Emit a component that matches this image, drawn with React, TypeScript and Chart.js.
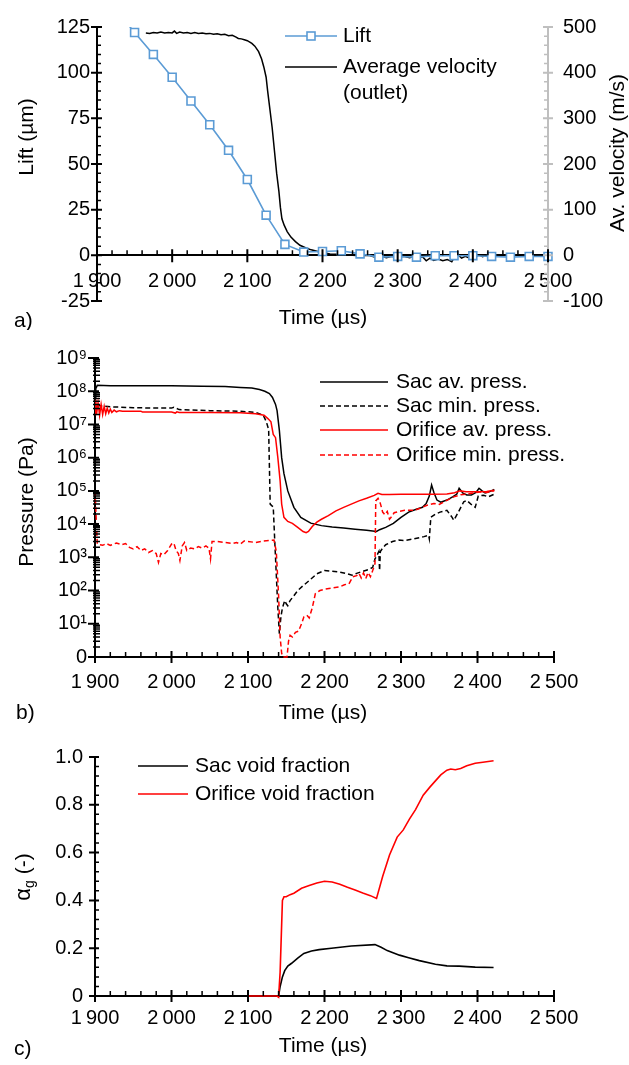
import React, { useEffect, useRef } from 'react';
import { Chart, registerables } from 'chart.js';

Chart.register(...registerables);

const FONT = "'Liberation Sans', Arial, Helvetica, sans-serif";
Chart.defaults.font.family = FONT;
Chart.defaults.font.size = 20;
Chart.defaults.color = '#000';

// ---------- shared time axis ----------
const timeTicks = [1900, 2000, 2100, 2200, 2300, 2400, 2500];
const timeTickLabels = ['1\u2009900', '2\u2009000', '2\u2009100', '2\u2009200', '2\u2009300', '2\u2009400', '2\u2009500'];

// ---------- panel a ----------
const liftTicks = [-25, 0, 25, 50, 75, 100, 125];
const liftTickLabels = ['-25', '0', '25', '50', '75', '100', '125'];
const velocityTicks = [-100, 0, 100, 200, 300, 400, 500];
const velocityTickLabels = ['-100', '0', '100', '200', '300', '400', '500'];

const liftTime = [1925, 1950, 1975, 2000, 2025, 2050, 2075, 2100, 2125, 2150, 2175, 2200, 2225, 2250, 2275, 2300, 2325, 2350, 2375, 2400, 2425, 2450, 2475, 2500];
const liftValue = [134.5, 122, 110, 97.5, 84.5, 71.5, 57.5, 41.5, 22, 6, 1.8, 2.1, 2.5, 0.8, -1.0, -0.6, -1.0, -0.2, -0.2, -0.2, -0.6, -1.0, -0.6, -0.6];

const velocityTime = [1965, 1970, 1975, 1980, 1985, 1990, 1995, 2000, 2003, 2006, 2010, 2015, 2020, 2025, 2030, 2035, 2040, 2045, 2050, 2055, 2060, 2065, 2070, 2075, 2080, 2085, 2088, 2092, 2096, 2100, 2106, 2110, 2115, 2119, 2122, 2125, 2127, 2130, 2133, 2136, 2139, 2142, 2144, 2146, 2149, 2153, 2158, 2164, 2170, 2178, 2185, 2195, 2210, 2225, 2240, 2250, 2262, 2270, 2278, 2285, 2292, 2300, 2308, 2316, 2322, 2328, 2333, 2338, 2343, 2348, 2354, 2360, 2366, 2372, 2376, 2380, 2385, 2390, 2394, 2398, 2403, 2408, 2413, 2418, 2422];
const velocityValue = [487, 486, 488, 487, 489, 487, 488, 487, 491, 486, 489, 487, 488, 486, 488, 486, 487, 485, 486, 484, 485, 483, 484, 481, 482, 478, 475, 474, 472, 470, 464, 458, 446, 430, 412, 390, 360, 320, 280, 230, 180, 140, 105, 80, 66, 52, 40, 30, 22, 16, 12, 8, 3, 2, 0, -1, 0, -4, -2, -5, -2, -4, -2, -5, -2, -6, -3, -12, -6, -11, -8, -12, -9, -14, -3, 2, -6, -2, -5, 2, -4, 1, -3, 0, 0];

// ---------- panel b ----------
const pressureTicks = [1, 10, 100, 1e3, 1e4, 1e5, 1e6, 1e7, 1e8, 1e9];
const pressureTickLabels = ['0', '10¹', '10²', '10³', '10⁴', '10⁵', '10⁶', '10⁷', '10⁸', '10⁹'];

const sacAvTime = [1900, 1901, 1903, 1920, 1960, 2000, 2040, 2070, 2090, 2105, 2115, 2122, 2128, 2132, 2136, 2138, 2141, 2144, 2147, 2152, 2160, 2169, 2182, 2196, 2210, 2225, 2240, 2255, 2268, 2272, 2280, 2290, 2300, 2310, 2320, 2328, 2333, 2337, 2340, 2343, 2347, 2352, 2360, 2368, 2373, 2376, 2381, 2386, 2392, 2398, 2402, 2406, 2410, 2416, 2422];
const sacAvPress = [6e7, 1.2e8, 1.5e8, 1.45e8, 1.45e8, 1.45e8, 1.42e8, 1.38e8, 1.3e8, 1.25e8, 1.12e8, 1e8, 8.5e7, 6.5e7, 4e7, 2.6e7, 6.6e6, 1e6, 3.3e5, 1e5, 3.2e4, 1.6e4, 1.07e4, 9e3, 8.2e3, 7.6e3, 7e3, 6.5e3, 6e3, 6.8e3, 8e3, 1.05e4, 1.6e4, 2.3e4, 2.8e4, 3.2e4, 4.2e4, 7e4, 1.5e5, 9e4, 5.3e4, 4.6e4, 5.3e4, 6.7e4, 8e4, 1.2e5, 8.5e4, 7.5e4, 7.5e4, 9e4, 1.2e5, 1e5, 8.7e4, 9.5e4, 1.1e5];

const sacMinTime = [1903, 1920, 1950, 1980, 2000, 2003, 2010, 2050, 2090, 2110, 2120, 2124, 2127, 2129, 2131, 2133, 2135, 2137, 2139, 2141, 2143, 2145, 2148, 2150, 2152, 2155, 2160, 2165, 2172, 2180, 2190, 2200, 2210, 2220, 2230, 2236, 2242, 2250, 2258, 2263, 2266, 2269, 2271, 2272, 2273, 2276, 2280, 2289, 2297, 2305, 2317, 2330, 2336, 2337, 2339, 2345, 2351, 2360, 2366, 2369, 2375, 2382, 2386, 2393, 2397, 2401, 2408, 2414, 2422];
const sacMinPress = [3.7e7, 3.4e7, 3.2e7, 3.1e7, 3.1e7, 3.3e7, 2.8e7, 2.6e7, 2.5e7, 2.3e7, 1.9e7, 1.2e7, 7e6, 4e4, 3.6e4, 3.3e4, 3e3, 3e2, 3e1, 5, 16, 30, 50, 40, 35, 50, 70, 100, 140, 200, 320, 400, 380, 360, 320, 290, 330, 380, 430, 500, 900, 1.2e3, 1.5e3, 400, 1.5e3, 1.9e3, 2.4e3, 3e3, 3.3e3, 3.2e3, 3.6e3, 4.2e3, 4.6e3, 3.6e3, 1.6e4, 2e4, 2.3e4, 2.6e4, 1.7e4, 1.3e4, 2.3e4, 4.7e4, 5.2e4, 3.7e4, 3.2e4, 7e4, 7.4e4, 6.6e4, 8e4];

const orificeAvTime = [1900, 1901, 1902, 1904, 1906, 1908, 1910, 1912, 1914, 1916, 1918, 1920, 1922, 1925, 1928, 1932, 1936, 1960, 1962, 2000, 2005, 2007, 2010, 2050, 2090, 2110, 2121, 2126, 2130, 2133, 2136, 2139, 2142, 2144, 2147, 2152, 2158, 2165, 2172, 2176, 2179, 2184, 2190, 2196, 2205, 2215, 2225, 2235, 2245, 2255, 2265, 2270, 2275, 2285, 2300, 2320, 2340, 2360, 2370, 2377, 2385, 2395, 2403, 2412, 2422];
const orificeAvPress = [2e7, 5.5e7, 2e7, 4.5e7, 1.9e7, 4e7, 2e7, 3.5e7, 2.1e7, 3.1e7, 2.2e7, 2.9e7, 2.3e7, 2.7e7, 2.4e7, 2.6e7, 2.5e7, 2.5e7, 2.35e7, 2.35e7, 2.2e7, 2.4e7, 2.3e7, 2.3e7, 2.25e7, 2.1e7, 1.9e7, 1.5e7, 1.2e7, 5e6, 4e6, 1e6, 2e5, 4e4, 1.6e4, 1.2e4, 1.05e4, 8e3, 6e3, 5.5e3, 6e3, 8.5e3, 1.15e4, 1.4e4, 1.8e4, 2.5e4, 3.2e4, 4e4, 5e4, 6e4, 7.3e4, 8.5e4, 7.8e4, 7.8e4, 7.9e4, 7.9e4, 7.9e4, 8e4, 8.8e4, 1e5, 9.4e4, 9.4e4, 9.5e4, 9.6e4, 1.05e5];

const orificeMinTime = [1900, 1901, 1903, 1910, 1915, 1920, 1928, 1935, 1940, 1945, 1950, 1955, 1960, 1965, 1970, 1975, 1980, 1983, 1986, 1990, 1995, 2000, 2003, 2006, 2009, 2011, 2014, 2017, 2020, 2025, 2030, 2035, 2040, 2045, 2049, 2051, 2053, 2060, 2070, 2080, 2085, 2090, 2095, 2100, 2110, 2120, 2134, 2137, 2140, 2142, 2144, 2146, 2151, 2153, 2155, 2158, 2162, 2166, 2170, 2173, 2177, 2180, 2184, 2188, 2194, 2200, 2210, 2220, 2226, 2232, 2237, 2242, 2245, 2248, 2251, 2254, 2257, 2260, 2263, 2266, 2267, 2270, 2273, 2276, 2279, 2282, 2285, 2288, 2291, 2297, 2305, 2317, 2325, 2334, 2343, 2350, 2360, 2369, 2378, 2390, 2403, 2412, 2422];
const orificeMinPress = [1e5, 3e4, 2.5e3, 2.3e3, 2.6e3, 2.3e3, 2.7e3, 2.4e3, 2.6e3, 2e3, 1.8e3, 2.1e3, 1.6e3, 1.8e3, 1.4e3, 1.6e3, 1.3e3, 700, 1.3e3, 1.2e3, 1.6e3, 2.5e3, 2.7e3, 1.6e3, 1.3e3, 800, 2.2e3, 2.8e3, 1.6e3, 1.9e3, 1.8e3, 2.1e3, 1.9e3, 2.2e3, 1.9e3, 900, 3e3, 3e3, 2.8e3, 2.6e3, 2.8e3, 2.5e3, 3.1e3, 3e3, 2.8e3, 3.1e3, 3.3e3, 1.5e3, 70, 4, 1.3, 1, 1, 3, 4.5, 4, 5.5, 6, 10, 16, 18, 15, 30, 80, 100, 110, 120, 130, 150, 160, 260, 280, 330, 240, 340, 230, 350, 260, 400, 650, 5e4, 6e4, 4.2e4, 2.3e4, 1.9e4, 2.4e4, 1.4e4, 1.7e4, 2.2e4, 2.4e4, 2.6e4, 2.6e4, 3e4, 3.7e4, 4.2e4, 3.9e4, 5.2e4, 6.6e4, 7.6e4, 8.3e4, 9.3e4, 9e4, 1e5];

// ---------- panel c ----------
const voidTicks = [0, 0.2, 0.4, 0.6, 0.8, 1.0];
const voidTickLabels = ['0', '0.2', '0.4', '0.6', '0.8', '1.0'];

const sacVoidTime = [2100, 2138, 2140, 2142, 2145, 2148, 2152, 2157, 2165, 2173, 2183, 2193, 2209, 2235, 2266, 2274, 2282, 2298, 2310, 2324, 2345, 2360, 2376, 2397, 2421];
const sacVoid = [0, 0, 0, 0.04, 0.08, 0.106, 0.125, 0.137, 0.158, 0.178, 0.188, 0.194, 0.2, 0.209, 0.215, 0.204, 0.19, 0.171, 0.16, 0.148, 0.133, 0.126, 0.125, 0.121, 0.119];

const orificeVoidTime = [2100, 2120, 2138, 2140, 2142, 2145, 2147, 2150, 2155, 2160, 2170, 2180, 2190, 2200, 2210, 2220, 2230, 2240, 2250, 2260, 2268, 2276, 2285, 2295, 2303, 2311, 2319, 2329, 2338, 2345, 2352, 2360, 2365, 2371, 2378, 2386, 2397, 2407, 2421];
const orificeVoid = [0, 0, 0, -0.005, 0.1, 0.4, 0.415, 0.415, 0.424, 0.43, 0.451, 0.462, 0.473, 0.48, 0.477, 0.468, 0.455, 0.443, 0.431, 0.42, 0.408, 0.5, 0.59, 0.665, 0.695, 0.74, 0.78, 0.84, 0.875, 0.9, 0.925, 0.945, 0.95, 0.947, 0.952, 0.963, 0.974, 0.978, 0.984];

// ---------- styling ----------
const BLUE = '#5b9bd5';
const RED = '#ff0000';
const GREY = '#bfbfbf';
const DASH = [5, 3];

const pts = (xs: number[], ys: number[]) => xs.map((x, i) => ({ x, y: ys[i] }));

function range(a: number, b: number, step: number) {
  const out: number[] = [];
  for (let k = 0; a + k * step <= b + 1e-9; k++) out.push(+(a + k * step).toFixed(6));
  return out;
}
const minorOf = (a: number, b: number, step: number, majors: number[]) =>
  range(a, b, step).filter((v) => !majors.some((m) => Math.abs(m - v) < 1e-6));

const timeMinor = minorOf(1900, 2500, 20, timeTicks);
const liftMinor = minorOf(-25, 125, 5, liftTicks);
const velocityMinor = minorOf(-100, 500, 20, velocityTicks);
const voidMinor = minorOf(0, 1, 0.04, voidTicks);
const pressureMinor: number[] = [];
for (let n = 0; n < 9; n++) for (let k = 2; k <= 9; k++) pressureMinor.push(k * Math.pow(10, n));

type TickGroup = { scale: string; values: number[]; base: 'left' | 'right' | 'bottom' | 'zero'; out: number; inner: number; color: string; width: number };
type LegendItem = { x1: number; x2: number; y: number; color: string; width: number; dash?: number[]; marker?: boolean; lines: string[]; tx: number };
type Part = { t: string; size: number; dy?: number };
type TextItem = { parts: Part[]; x: number; y: number; rotate?: boolean; align?: 'left' | 'center' };

function decor(id: string, ticks: TickGroup[], legend: LegendItem[], texts: TextItem[]) {
  return {
    id,
    afterDraw(chart: any) {
      const ctx: CanvasRenderingContext2D = chart.ctx;
      const area = chart.chartArea;
      ctx.save();
      for (const g of ticks) {
        const s = chart.scales[g.scale];
        ctx.strokeStyle = g.color;
        ctx.lineWidth = g.width;
        ctx.setLineDash([]);
        ctx.beginPath();
        for (const v of g.values) {
          const p = s.getPixelForValue(v);
          if (g.base === 'left') {
            ctx.moveTo(area.left - g.out, p);
            ctx.lineTo(area.left + g.inner, p);
          } else if (g.base === 'right') {
            ctx.moveTo(area.right - g.inner, p);
            ctx.lineTo(area.right + g.out, p);
          } else {
            const y0 = g.base === 'bottom' ? area.bottom : chart.scales.y.getPixelForValue(0);
            ctx.moveTo(p, y0 - g.inner);
            ctx.lineTo(p, y0 + g.out);
          }
        }
        ctx.stroke();
      }
      for (const it of legend) {
        ctx.strokeStyle = it.color;
        ctx.lineWidth = it.width;
        ctx.setLineDash(it.dash || []);
        ctx.beginPath();
        ctx.moveTo(it.x1, it.y);
        ctx.lineTo(it.x2, it.y);
        ctx.stroke();
        ctx.setLineDash([]);
        if (it.marker) {
          const cx = (it.x1 + it.x2) / 2;
          ctx.fillStyle = '#fff';
          ctx.fillRect(cx - 4, it.y - 4, 8, 8);
          ctx.strokeRect(cx - 4, it.y - 4, 8, 8);
        }
        ctx.fillStyle = '#000';
        ctx.font = `21px ${FONT}`;
        ctx.textAlign = 'left';
        ctx.textBaseline = 'middle';
        it.lines.forEach((ln, i) => ctx.fillText(ln, it.tx, it.y + i * 26));
      }
      for (const t of texts) {
        ctx.save();
        ctx.translate(t.x, t.y);
        if (t.rotate) ctx.rotate(-Math.PI / 2);
        ctx.fillStyle = '#000';
        ctx.textBaseline = 'middle';
        ctx.textAlign = 'left';
        let total = 0;
        for (const p of t.parts) {
          ctx.font = `${p.size}px ${FONT}`;
          total += ctx.measureText(p.t).width;
        }
        let x = t.align === 'left' ? 0 : -total / 2;
        for (const p of t.parts) {
          ctx.font = `${p.size}px ${FONT}`;
          ctx.fillText(p.t, x, p.dy || 0);
          x += ctx.measureText(p.t).width;
        }
        ctx.restore();
      }
      ctx.restore();
    },
  };
}

function timeScale(padding: number, position: any, fitHeight: number) {
  return {
    type: 'linear',
    position,
    min: 1900,
    max: 2500,
    afterBuildTicks: (s: any) => {
      s.ticks = timeTicks.map((v) => ({ value: v }));
    },
    afterFit: (s: any) => {
      s.height = fitHeight;
    },
    ticks: {
      callback: (_v: any, i: number) => timeTickLabels[i],
      autoSkip: false,
      maxRotation: 0,
      minRotation: 0,
      padding,
      font: { size: 20 },
      color: '#000',
    },
    grid: { display: false, drawTicks: false },
    border: { display: true, color: '#000', width: 2 },
  };
}

function valueScale(pos: 'left' | 'right', min: number, max: number, ticks: number[], labels: string[], width: number, padding: number, color: string, type = 'linear') {
  return {
    type,
    position: pos,
    min,
    max,
    afterBuildTicks: (s: any) => {
      s.ticks = ticks.map((v) => ({ value: v }));
    },
    afterFit: (s: any) => {
      s.width = width;
    },
    ticks: {
      callback: (_v: any, i: number) => labels[i],
      autoSkip: false,
      padding,
      font: { size: 20 },
      color: '#000',
    },
    grid: { display: false, drawTicks: false },
    border: { display: true, color, width: 2 },
  };
}

const baseOptions = {
  responsive: false,
  animation: false,
  devicePixelRatio: 1,
  plugins: { legend: { display: false }, tooltip: { enabled: false } },
  elements: { line: { tension: 0 } },
};

function buildA() {
  return {
    type: 'line',
    data: {
      datasets: [
        {
          label: 'Lift',
          data: pts(liftTime, liftValue),
          yAxisID: 'y',
          borderColor: BLUE,
          borderWidth: 1.6,
          pointStyle: 'rect',
          pointRadius: 5.6,
          pointBackgroundColor: '#fff',
          pointBorderColor: BLUE,
          pointBorderWidth: 1.6,
          clip: { left: 10, top: 0, right: 10, bottom: 10 },
          order: 0,
        },
        {
          label: 'Average velocity (outlet)',
          data: pts(velocityTime, velocityValue),
          yAxisID: 'y1',
          borderColor: '#000',
          borderWidth: 1.5,
          pointRadius: 0,
          order: 1,
        },
      ],
    },
    options: {
      ...baseOptions,
      layout: { padding: { top: 19, bottom: 29, left: 0, right: 0 } },
      scales: {
        x: timeScale(14, { y: 0 }, 0),
        y: valueScale('left', -25, 125, liftTicks, liftTickLabels, 97, 7, '#000'),
        y1: valueScale('right', -100, 500, velocityTicks, velocityTickLabels, 81, 15, GREY),
      },
    },
    plugins: [
      decor(
        'decorA',
        [
          { scale: 'y', values: liftTicks, base: 'left', out: 6, inner: 5, color: '#000', width: 2 },
          { scale: 'y', values: liftMinor, base: 'left', out: 0, inner: 4, color: '#000', width: 1.5 },
          { scale: 'y1', values: velocityTicks, base: 'right', out: 5, inner: 5, color: GREY, width: 2 },
          { scale: 'y1', values: velocityMinor, base: 'right', out: 0, inner: 4, color: GREY, width: 1.5 },
          { scale: 'x', values: timeTicks, base: 'zero', out: 7, inner: 6, color: '#000', width: 2 },
          { scale: 'x', values: timeMinor, base: 'zero', out: 0, inner: 5, color: '#000', width: 1.5 },
        ],
        [
          { x1: 285, x2: 337, y: 36, color: BLUE, width: 1.6, marker: true, lines: ['Lift'], tx: 343 },
          { x1: 285, x2: 337, y: 67, color: '#000', width: 1.5, lines: ['Average velocity', '(outlet)'], tx: 343 },
        ],
        [
          { parts: [{ t: 'Lift (µm)', size: 21 }], x: 27, y: 137, rotate: true },
          { parts: [{ t: 'Av. velocity (m/s)', size: 21 }], x: 618, y: 153, rotate: true },
          { parts: [{ t: 'Time (µs)', size: 21 }], x: 323, y: 318 },
          { parts: [{ t: 'a)', size: 21 }], x: 14, y: 321, align: 'left' },
        ]
      ),
    ],
  };
}

function buildB() {
  return {
    type: 'line',
    data: {
      datasets: [
        { label: 'Sac av. press.', data: pts(sacAvTime, sacAvPress), borderColor: '#000', borderWidth: 1.5, pointRadius: 0, order: 3 },
        { label: 'Sac min. press.', data: pts(sacMinTime, sacMinPress), borderColor: '#000', borderWidth: 1.5, borderDash: DASH, pointRadius: 0, order: 2 },
        { label: 'Orifice av. press.', data: pts(orificeAvTime, orificeAvPress), borderColor: RED, borderWidth: 1.5, pointRadius: 0, order: 1 },
        { label: 'Orifice min. press.', data: pts(orificeMinTime, orificeMinPress), borderColor: RED, borderWidth: 1.5, borderDash: DASH, pointRadius: 0, order: 0, clip: 3 },
      ],
    },
    options: {
      ...baseOptions,
      layout: { padding: { top: 28, bottom: 0, left: 0, right: 75 } },
      scales: {
        x: timeScale(13, 'bottom', 73),
        y: valueScale('left', 1, 1e9, pressureTicks, pressureTickLabels, 95, 8, '#000', 'logarithmic'),
      },
    },
    plugins: [
      decor(
        'decorB',
        [
          { scale: 'y', values: pressureTicks, base: 'left', out: 7, inner: 4, color: '#000', width: 2 },
          { scale: 'y', values: pressureMinor, base: 'left', out: 2, inner: 5, color: '#000', width: 1.5 },
          { scale: 'x', values: timeTicks, base: 'bottom', out: 6, inner: 6, color: '#000', width: 2 },
          { scale: 'x', values: timeMinor, base: 'bottom', out: 0, inner: 5, color: '#000', width: 1.5 },
        ],
        [
          { x1: 320, x2: 388, y: 52, color: '#000', width: 1.5, lines: ['Sac av. press.'], tx: 396 },
          { x1: 320, x2: 388, y: 76, color: '#000', width: 1.5, dash: DASH, lines: ['Sac min. press.'], tx: 396 },
          { x1: 320, x2: 388, y: 100, color: RED, width: 1.5, lines: ['Orifice av. press.'], tx: 396 },
          { x1: 320, x2: 388, y: 125, color: RED, width: 1.5, dash: DASH, lines: ['Orifice min. press.'], tx: 396 },
        ],
        [
          { parts: [{ t: 'Pressure (Pa)', size: 21 }], x: 27, y: 172, rotate: true },
          { parts: [{ t: 'Time (µs)', size: 21 }], x: 323, y: 383 },
          { parts: [{ t: 'b)', size: 21 }], x: 16, y: 383, align: 'left' },
        ]
      ),
    ],
  };
}

function buildC() {
  return {
    type: 'line',
    data: {
      datasets: [
        { label: 'Sac void fraction', data: pts(sacVoidTime, sacVoid), borderColor: '#000', borderWidth: 1.6, pointRadius: 0, order: 1, clip: false },
        { label: 'Orifice void fraction', data: pts(orificeVoidTime, orificeVoid), borderColor: RED, borderWidth: 1.6, pointRadius: 0, order: 0, clip: false },
      ],
    },
    options: {
      ...baseOptions,
      layout: { padding: { top: 37, bottom: 0, left: 0, right: 75 } },
      scales: {
        x: timeScale(10, 'bottom', 69),
        y: valueScale('left', 0, 1, voidTicks, voidTickLabels, 95, 12, '#000'),
      },
    },
    plugins: [
      decor(
        'decorC',
        [
          { scale: 'y', values: voidTicks, base: 'left', out: 6, inner: 4, color: '#000', width: 2 },
          { scale: 'y', values: voidMinor, base: 'left', out: 0, inner: 4, color: '#000', width: 1.5 },
          { scale: 'x', values: timeTicks, base: 'bottom', out: 6, inner: 6, color: '#000', width: 2 },
          { scale: 'x', values: timeMinor, base: 'bottom', out: 0, inner: 5, color: '#000', width: 1.5 },
        ],
        [
          { x1: 138, x2: 188, y: 46, color: '#000', width: 1.6, lines: ['Sac void fraction'], tx: 195 },
          { x1: 138, x2: 188, y: 74, color: RED, width: 1.6, lines: ['Orifice void fraction'], tx: 195 },
        ],
        [
          { parts: [{ t: 'α', size: 22 }, { t: 'g', size: 14, dy: 6 }, { t: ' (-)', size: 21 }], x: 24, y: 157, rotate: true },
          { parts: [{ t: 'Time (µs)', size: 21 }], x: 323, y: 326 },
          { parts: [{ t: 'c)', size: 21 }], x: 14, y: 329, align: 'left' },
        ]
      ),
    ],
  };
}

function ChartPanel({ top, height, build }: { top: number; height: number; build: () => any }) {
  const ref = useRef<HTMLCanvasElement | null>(null);
  useEffect(() => {
    if (!ref.current) return;
    const chart = new Chart(ref.current, build());
    return () => chart.destroy();
  }, [build]);
  return (
    <canvas
      ref={ref}
      width={629}
      height={height}
      style={{ position: 'absolute', left: 0, top, width: 629, height, display: 'block' }}
    />
  );
}

export default function App() {
  return (
    <div style={{ position: 'absolute', left: 0, top: 0, width: 629, height: 1065, background: '#fff', overflow: 'hidden' }}>
      <ChartPanel top={0} height={330} build={buildA} />
      <ChartPanel top={720} height={345} build={buildC} />
      <ChartPanel top={330} height={400} build={buildB} />
    </div>
  );
}
